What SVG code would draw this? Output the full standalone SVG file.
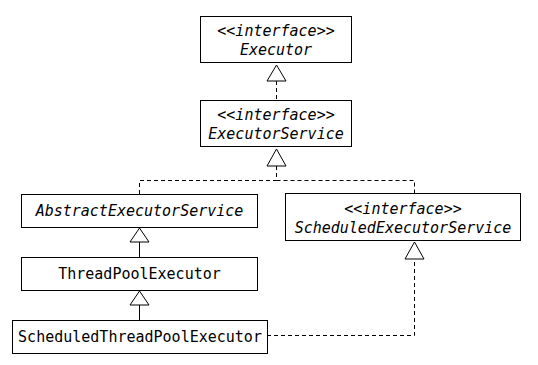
<svg xmlns="http://www.w3.org/2000/svg" width="538" height="365" viewBox="0 0 538 365">
<style>
.box{fill:#fff;stroke:#000;stroke-width:1}
.t{font-family:"DejaVu Sans Mono","Liberation Mono",monospace;font-size:15px;fill:#000;text-anchor:middle}
.i{font-style:italic}
.dash{fill:none;stroke:#000;stroke-width:1;stroke-dasharray:4 3}
.solid{fill:none;stroke:#000;stroke-width:1}
.tri{fill:#fff;stroke:#000;stroke-width:1}
</style>
<rect width="538" height="365" fill="#fff"/>
<g id="connectors">
<path class="dash" d="M276.5 81 V100"/>
<path class="dash" d="M276.5 166 V180.5 H139.5 V194"/>
<path class="dash" d="M276.5 180.5 H414.5 V193"/>
<path class="solid" d="M139.5 242 V257"/>
<path class="solid" d="M139.5 305 V320"/>
<path class="dash" d="M267 335.5 H414.5 V259"/>
<polygon class="tri" points="276.5,65 267,81 286,81"/>
<polygon class="tri" points="276.5,149 267,166 286,166"/>
<polygon class="tri" points="139.5,228 130,242 149,242"/>
<polygon class="tri" points="139.5,291 130,305 149,305"/>
<polygon class="tri" points="414.5,242 405,259 424,259"/>
</g>
<g id="executor">
<rect class="box" x="200.5" y="16.5" width="151" height="46"/>
<text class="t i" x="276" y="36">&lt;&lt;interface&gt;&gt;</text>
<text class="t i" x="276" y="55">Executor</text>
</g>
<g id="executorService">
<rect class="box" x="200.5" y="100.5" width="151" height="46"/>
<text class="t i" x="276" y="120">&lt;&lt;interface&gt;&gt;</text>
<text class="t i" x="276" y="139">ExecutorService</text>
</g>
<g id="abstractExecutorService">
<rect class="box" x="21.5" y="194.5" width="236" height="33"/>
<text class="t i" x="139.5" y="216">AbstractExecutorService</text>
</g>
<g id="scheduledExecutorService">
<rect class="box" x="285.5" y="193.5" width="235" height="47"/>
<text class="t i" x="403" y="214">&lt;&lt;interface&gt;&gt;</text>
<text class="t i" x="403" y="233">ScheduledExecutorService</text>
</g>
<g id="threadPoolExecutor">
<rect class="box" x="21.5" y="257.5" width="236" height="33"/>
<text class="t" x="139.5" y="279">ThreadPoolExecutor</text>
</g>
<g id="scheduledThreadPoolExecutor">
<rect class="box" x="12.5" y="320.5" width="255" height="33"/>
<text class="t" x="140" y="342">ScheduledThreadPoolExecutor</text>
</g>
</svg>
